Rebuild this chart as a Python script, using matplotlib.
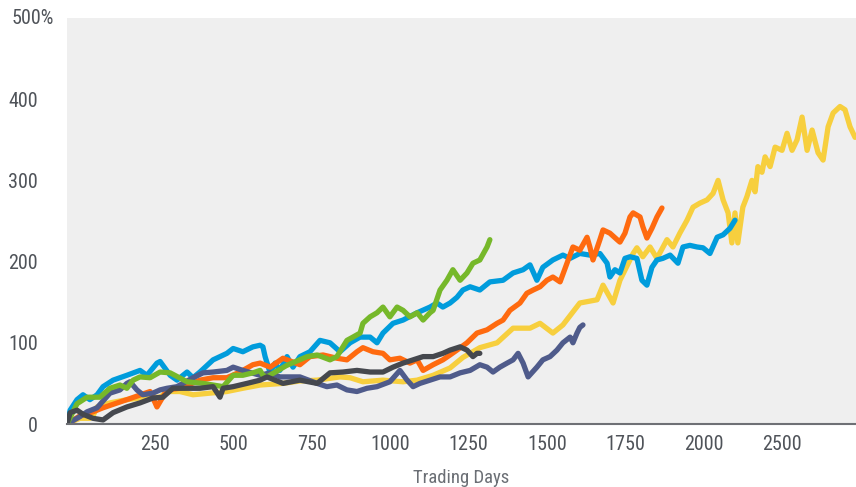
import matplotlib.pyplot as plt

# Trading-day growth paths (cumulative return, %)
yellow_days = [0, 10, 41, 73, 83, 96, 137, 191, 255, 297, 319, 360, 402, 456, 510, 561, 616, 689, 743, 798,
               871, 903, 944, 1008, 1072, 1117, 1168, 1222, 1263, 1317, 1372, 1423, 1477, 1509, 1550, 1582,
               1636, 1691, 1710, 1742, 1764, 1806, 1818, 1837, 1860, 1882, 1914, 1933, 1955, 1978, 1997,
               2019, 2042, 2061, 2077, 2093, 2109, 2121, 2131, 2140, 2156, 2169, 2185, 2195, 2204, 2217,
               2227, 2243, 2259, 2281, 2297, 2313, 2329, 2345, 2361, 2377, 2396, 2412, 2428, 2444, 2466,
               2482, 2498, 2514]
yellow_vals = [0, 2, 7, 7, 10, 21, 26, 30, 33, 33, 40, 40, 36, 38, 40, 44, 48, 50, 53, 54,
               58, 57, 52, 54, 52, 54, 60, 69, 82, 94, 100, 118, 118, 124, 112, 122,
               149, 153, 171, 149, 177, 210, 217, 206, 218, 204, 227, 218, 235, 251, 267,
               272, 276, 284, 300, 276, 260, 223, 260, 223, 267, 280, 300, 286, 317, 310,
               329, 317, 341, 337, 358, 337, 350, 378, 337, 362, 334, 325, 366, 383, 391,
               387, 366, 353]

blue_days = [0, 3, 10, 32, 51, 73, 96, 115, 147, 191, 233, 255, 287, 297, 329, 351, 383, 402, 424, 466,
             510, 530, 561, 593, 616, 625, 632, 648, 664, 679, 702, 721, 743, 775, 807, 839, 871, 903,
             935, 967, 989, 1008, 1040, 1072, 1117, 1158, 1180, 1199, 1222, 1244, 1263, 1286, 1317,
             1349, 1391, 1423, 1455, 1477, 1499, 1518, 1550, 1582, 1605, 1636, 1668, 1700, 1723, 1732,
             1748, 1764, 1780, 1796, 1818, 1834, 1850, 1866, 1882, 1901, 1924, 1949, 1965, 1987, 2010,
             2029, 2051, 2074, 2093, 2115, 2131]
blue_vals = [0, 5, 17, 30, 36, 30, 36, 46, 54, 60, 66, 60, 75, 77, 60, 54, 64, 57, 64, 79,
             87, 93, 89, 95, 97, 95, 83, 63, 75, 66, 83, 70, 83, 89, 103, 100, 89, 100,
             107, 107, 100, 112, 124, 128, 137, 144, 149, 144, 149, 156, 165, 169, 165,
             175, 177, 186, 190, 196, 177, 193, 202, 208, 204, 210, 208, 210, 198, 181,
             190, 186, 204, 206, 204, 177, 171, 193, 202, 204, 208, 198, 218, 220, 218,
             217, 210, 230, 233, 241, 251]

orange_days = [0, 41, 83, 115, 191, 265, 287, 319, 360, 424, 466, 510, 552, 593, 616, 648, 689, 743, 775,
               817, 861, 893, 925, 944, 976, 1008, 1030, 1062, 1094, 1117, 1136, 1168, 1199, 1222, 1244,
               1276, 1308, 1340, 1372, 1391, 1413, 1445, 1467, 1487, 1509, 1531, 1550, 1573, 1595, 1614,
               1636, 1659, 1668, 1678, 1700, 1710, 1732, 1755, 1764, 1780, 1796, 1806, 1828, 1837, 1850,
               1866, 1882, 1898]
orange_vals = [0, 10, 15, 20, 30, 40, 21, 42, 44, 54, 57, 57, 64, 73, 75, 70, 81, 73, 83,
               85, 81, 79, 89, 94, 89, 87, 79, 81, 75, 79, 66, 73, 79, 85, 91,
               100, 112, 116, 124, 128, 140, 149, 161, 165, 169, 177, 181, 175, 198, 218,
               214, 230, 218, 202, 227, 239, 235, 227, 224, 235, 255, 260, 255, 243, 229,
               241, 255, 266]

green_days = [0, 32, 64, 105, 137, 169, 191, 211, 233, 265, 297, 329, 383, 434, 466, 498, 530, 561, 593,
              616, 625, 638, 700, 766, 798, 839, 861, 893, 912, 935, 944, 967, 989, 1008, 1030, 1053,
              1072, 1094, 1117, 1136, 1158, 1168, 1190, 1212, 1231, 1254, 1276, 1295, 1317, 1340, 1349]
green_vals = [0, 25, 33, 33, 44, 48, 44, 54, 58, 57, 64, 63, 52, 50, 48, 46, 60, 60, 63,
              66, 60, 58, 72, 83, 85, 79, 83, 103, 107, 112, 124, 132, 137, 144, 132, 144,
              140, 132, 137, 128, 137, 140, 165, 177, 190, 177, 186, 198, 202, 218, 227]

slate_days = [0, 41, 64, 96, 137, 169, 191, 201, 223, 242, 274, 297, 319, 351, 402, 434, 466, 510, 530,
              561, 616, 648, 679, 743, 798, 829, 861, 893, 925, 957, 989, 1030, 1062, 1085, 1104, 1126,
              1158, 1190, 1222, 1254, 1286, 1317, 1340, 1359, 1381, 1404, 1423, 1439, 1455, 1471, 1499,
              1518, 1541, 1563, 1582, 1605, 1614, 1627, 1636, 1646]
slate_vals = [0, 9, 15, 20, 38, 42, 50, 52, 42, 36, 38, 42, 44, 46, 57, 63, 64, 66, 70,
              66, 60, 63, 58, 58, 50, 46, 48, 42, 40, 44, 46, 52, 66, 54, 46, 50,
              54, 58, 58, 63, 66, 73, 70, 64, 70, 75, 79, 87, 75, 58, 70,
              79, 83, 91, 100, 107, 100, 112, 119, 122]

grey_days = [0, 10, 32, 51, 83, 115, 147, 191, 233, 274, 306, 338, 383, 424, 466, 488, 498, 530, 574,
             616, 638, 689, 743, 798, 839, 880, 925, 967, 1008, 1040, 1072, 1104, 1136, 1168, 1199,
             1222, 1254, 1276, 1295, 1308, 1317]
grey_vals = [0, 14, 17, 12, 7, 5, 14, 21, 26, 32, 33, 44, 44, 44, 46, 33, 44, 46, 50,
             54, 58, 50, 54, 50, 63, 64, 66, 64, 64, 70, 75, 79, 83, 83, 87,
             91, 95, 91, 83, 87, 87]

series = [
    (yellow_days, yellow_vals, '#F7CF3E'),
    (blue_days, blue_vals, '#009CDC'),
    (orange_days, orange_vals, '#FF6A0F'),
    (slate_days, slate_vals, '#4F5B8B'),
    (green_days, green_vals, '#76B82A'),
    (grey_days, grey_vals, '#45484E'),
]

x_tick_pos = [281 + 250 * i for i in range(9)]
x_tick_labels = ['250', '500', '750', '1000', '1250', '1500', '1750', '2000', '2500']
y_ticks = [0, 100, 200, 300, 400]
y_tick_labels = ['0', '100', '200', '300', '400']

plt.rcParams['font.family'] = ['Roboto Condensed', 'Roboto', 'DejaVu Sans']

fig = plt.figure(figsize=(8.56, 4.87), dpi=100)
ax = fig.add_axes([67 / 856, 63 / 487, 789 / 856, 406 / 487])
ax.set_facecolor('#EFEFEF')

for days, vals, color in series:
    ax.plot(days, vals, color=color, lw=3.8, solid_joinstyle='round', solid_capstyle='round')

ax.set_xlim(0, 2517)
ax.set_ylim(0, 500)

ax.set_xticks(x_tick_pos)
ax.set_xticklabels(x_tick_labels)
ax.set_yticks(y_ticks)
ax.set_yticklabels(y_tick_labels)
ax.annotate('500%', xy=(0, 500), xycoords=('axes fraction', 'data'), xytext=(-55, 0),
            textcoords='offset pixels', ha='left', va='center', fontsize=14.5, color='#4F5359')

ax.tick_params(axis='both', length=0, labelsize=14.5, labelcolor='#4F5359')
ax.tick_params(axis='y', pad=21)
ax.tick_params(axis='x', pad=8)

for side in ['left', 'right', 'top']:
    ax.spines[side].set_visible(False)
ax.spines['bottom'].set_color('#6E7075')
ax.spines['bottom'].set_linewidth(1.5)

ax.set_xlabel('Trading Days', fontsize=13.5, color='#6B6F75', labelpad=11)

fig.savefig('out.png', dpi=100)
